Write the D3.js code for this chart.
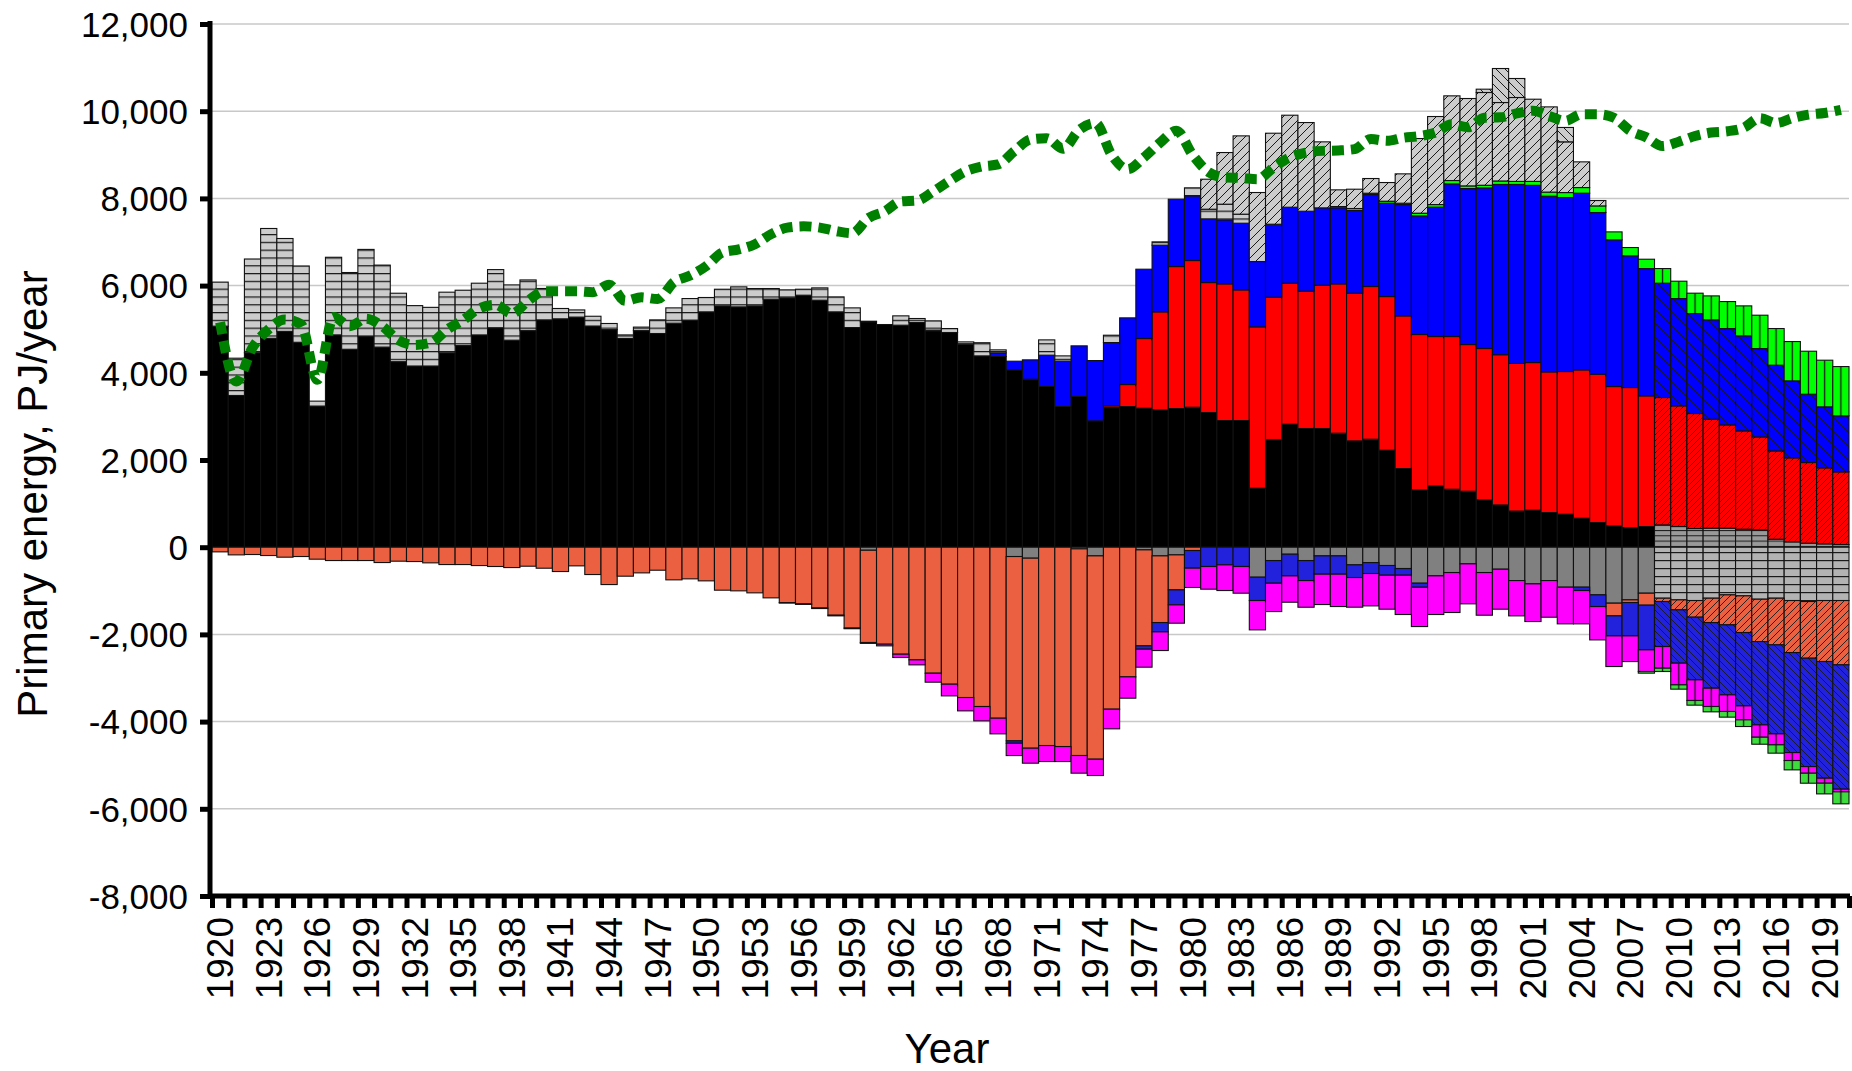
<!DOCTYPE html>
<html>
<head>
<meta charset="utf-8">
<script src="https://cdnjs.cloudflare.com/ajax/libs/d3/7.8.5/d3.min.js"></script>
<style>
body { margin: 0; background: #fff; }
text { font-family: "Liberation Sans", Arial, sans-serif; fill: #000; }
</style>
</head>
<body>
<div id="chart"></div>
<script>
// years on the x axis
const years = [1920,1921,1922,1923,1924,1925,1926,1927,1928,1929,
  1930,1931,1932,1933,1934,1935,1936,1937,1938,1939,
  1940,1941,1942,1943,1944,1945,1946,1947,1948,1949,
  1950,1951,1952,1953,1954,1955,1956,1957,1958,1959,
  1960,1961,1962,1963,1964,1965,1966,1967,1968,1969,
  1970,1971,1972,1973,1974,1975,1976,1977,1978,1979,
  1980,1981,1982,1983,1984,1985,1986,1987,1988,1989,
  1990,1991,1992,1993,1994,1995,1996,1997,1998,1999,
  2000,2001,2002,2003,2004,2005,2006,2007,2008,2009,
  2010,2011,2012,2013,2014,2015,2016,2017,2018,2019,2020];

// positive side, PJ/year (stack order bottom -> top)
const coal = [5070,3480,4460,4790,4950,4700,3230,4870,4540,4830,
  4590,4255,4156,4156,4459,4624,4869,5032,4748,4967,
  5213,5238,5278,5073,4991,4787,4967,4901,5138,5206,
  5398,5535,5512,5535,5688,5719,5780,5665,5398,5038,
  5170,5107,5092,5153,4962,4924,4656,4388,4373,4067,
  3853,3685,3226,3456,2898,3200,3226,3188,3150,3180,
  3211,3089,2905,2905,1353,2470,2821,2722,2722,2615,
  2439,2477,2225,1804,1315,1407,1330,1284,1086,970,
  830,850,795,757,665,566,490,451,474,512,
  474,428,436,436,413,397,183,122,92,76,61];
const oil = [0,0,0,0,0,0,0,0,0,0,
  0,0,0,0,0,0,0,0,0,0,
  0,0,0,0,0,0,0,0,0,0,
  0,0,0,0,0,0,0,0,0,0,
  0,0,0,0,15,0,0,0,0,0,
  0,0,0,0,0,42,505,1598,2248,3257,
  3364,2981,3135,2997,3701,3264,3234,3150,3287,3425,
  3387,3502,3524,3502,3563,3425,3502,3364,3471,3445,
  3385,3385,3226,3272,3402,3402,3195,3211,2997,2921,
  2768,2638,2500,2370,2255,2133,2026,1927,1850,1744,1667];
const gas = [0,0,0,0,0,0,0,0,0,0,
  0,0,0,0,0,0,0,0,0,0,
  0,0,0,0,0,0,0,0,0,0,
  0,0,0,0,0,0,0,0,0,0,
  0,0,0,0,0,0,0,0,85,199,
  444,719,1040,1162,1383,1452,1529,1590,1529,1545,
  1483,1453,1468,1529,1498,1674,1743,1834,1774,1743,
  1896,2110,2141,2553,2721,2966,3501,3578,3684,3905,
  4105,4065,4029,3991,4052,3708,3364,3020,2920,2622,
  2461,2293,2278,2209,2179,2026,1965,1766,1567,1399,1284];
const renew = [0,0,0,0,0,0,0,0,0,0,
  0,0,0,0,0,0,0,0,0,0,
  0,0,0,0,0,0,0,0,0,0,
  0,0,0,0,0,0,0,0,0,0,
  0,0,0,0,0,0,0,0,0,0,
  0,0,0,0,0,0,0,0,0,0,
  0,0,0,0,0,0,0,0,0,30,
  46,30,46,31,62,61,77,61,61,80,
  70,90,95,114,130,152,183,191,214,336,
  398,467,550,619,688,765,841,902,986,1070,1131];
const lined = [1010,855,2150,2520,2130,1750,120,1780,1760,2000,
  1880,1570,1385,1345,1390,1270,1186,1335,1268,1163,
  721,237,164,224,140,82,81,313,351,497,
  329,382,459,398,245,183,137,283,343,451,
  13,0,214,92,214,91,53,302,68,0,
  0,351,122,0,0,168,0,0,76,0,
  184,229,359,207,0,0,0,0,0,0,
  0,0,0,0,0,0,0,0,0,0,
  0,0,0,0,0,0,0,0,0,0,
  0,0,0,0,0,0,0,0,0,0,0];
const hatched = [0,0,0,0,0,0,0,0,0,0,
  0,0,0,0,0,0,0,0,0,0,
  0,0,0,0,0,0,0,0,0,0,
  0,0,0,0,0,0,0,0,0,0,
  0,0,0,0,0,0,0,0,0,0,
  0,0,0,0,0,0,0,0,0,0,
  0,688,1185,1796,1583,2087,2110,2034,1514,383,
  443,337,428,673,1712,2019,1942,2004,2127,1799,
  1924,1885,1954,1163,589,123,0,0,0,0,
  0,0,0,0,0,0,0,0,0,0,0];
const backHatched = [0,0,0,0,0,0,0,0,0,0,
  0,0,0,0,0,0,0,0,0,0,
  0,0,0,0,0,0,0,0,0,0,
  0,0,0,0,0,0,0,0,0,0,
  0,0,0,0,0,0,0,0,0,0,
  0,0,0,0,0,0,0,0,0,0,
  0,0,0,0,0,0,0,0,0,0,
  0,0,0,0,0,0,0,0,76,780,
  436,0,0,330,0,0,0,0,0,0,
  0,0,0,0,0,0,0,0,0,0,0];

// negative side, PJ/year as magnitudes (stack order zero -> down)
const outGray = [0,0,0,0,0,0,0,0,0,0,
  0,0,0,0,0,0,0,0,0,0,
  0,0,0,0,0,0,0,0,0,0,
  0,0,0,0,0,0,0,0,0,0,
  70,0,0,0,0,0,0,0,0,214,
  252,0,0,38,199,0,0,61,199,176,
  0,0,0,0,688,306,161,306,199,199,
  405,352,420,489,826,657,581,382,581,505,
  765,841,765,917,917,1093,1284,1208,1055,1170,
  1208,1223,1170,1093,1116,1193,1170,1223,1246,1223,1223];
const outOrange = [107,176,168,191,229,214,275,306,306,306,
  352,321,329,359,398,398,421,443,467,436,
  482,558,428,627,857,665,589,528,749,726,
  772,986,1001,1047,1162,1270,1300,1395,1560,1855,
  2116,2225,2454,2584,2890,3142,3448,3654,3922,4228,
  4358,4549,4572,4740,4663,3715,2974,2202,1529,803,
  76,0,0,0,0,0,0,0,0,0,
  0,0,0,0,0,0,0,0,0,0,
  0,0,0,0,0,0,291,61,275,76,
  229,382,558,688,841,971,1070,1193,1300,1399,1475];
const outBlue = [0,0,0,0,0,0,0,0,0,0,
  0,0,0,0,0,0,0,0,0,0,
  0,0,0,0,0,0,0,0,0,0,
  0,0,0,0,0,0,0,0,0,0,
  0,0,0,0,0,0,0,0,0,54,
  0,0,0,0,0,0,0,76,214,344,
  405,443,405,443,535,520,497,459,420,420,
  291,252,222,153,92,0,0,0,0,0,
  0,0,0,0,76,268,459,765,1024,1032,
  1223,1437,1506,1605,1682,1911,2041,2294,2485,2676,2852];
const outMagenta = [0,0,0,0,0,0,0,0,0,0,
  0,0,0,0,0,0,0,0,0,0,
  0,0,0,0,0,0,0,0,0,0,
  0,0,0,0,0,12,12,12,15,15,
  20,38,76,115,206,268,306,329,359,283,
  344,367,344,405,375,451,489,413,428,420,
  443,520,589,612,673,650,604,612,696,742,
  680,742,780,902,902,887,917,917,979,917,
  810,864,841,841,765,765,703,589,497,497,
  497,474,420,382,321,283,252,183,153,115,61];
const outGreen = [0,0,0,0,0,0,0,0,0,0,
  0,0,0,0,0,0,0,0,0,0,
  0,0,0,0,0,0,0,0,0,0,
  0,0,0,0,0,0,0,0,0,0,
  0,0,0,0,0,0,0,0,0,0,
  0,0,0,0,0,0,0,0,0,0,
  0,0,0,0,0,0,0,0,0,0,
  0,0,0,0,0,0,0,0,0,0,
  0,0,0,0,0,0,0,0,38,76,
  99,107,122,130,153,161,191,214,229,245,275];

// total use, the green dotted line
const consumption = [5160,3800,4580,5000,5220,5110,3840,5280,5070,5240,
  5070,4750,4640,4690,4990,5210,5480,5560,5360,5650,
  5870,5870,5870,5850,6020,5650,5730,5690,6080,6230,
  6450,6760,6830,6950,7180,7330,7360,7330,7250,7200,
  7550,7700,7930,7950,8160,8400,8620,8730,8780,9080,
  9350,9380,9140,9570,9730,9000,8670,8940,9280,9550,
  9000,8600,8480,8470,8440,8710,8940,9050,9090,9100,
  9130,9360,9320,9390,9430,9510,9700,9630,9850,9860,
  9950,10010,9890,9780,9930,9930,9850,9550,9400,9200,
  9300,9430,9510,9540,9620,9840,9730,9840,9920,9960,10030];

const yTicks = [-8000,-6000,-4000,-2000,0,2000,4000,6000,8000,10000,12000];
const yearLabels = years.filter((d, i) => i % 3 == 0);
const newStyleFrom = 2009;

const W = 1852, H = 1071;
const mLeft = 212, mRight = 1849, mTop = 24, mBottom = 896;

const x = d3.scaleBand().domain(years).range([mLeft, mRight]).padding(0);
const xEdge = d3.scaleLinear().domain([1920, 2021]).range([mLeft, mRight]);
const y = d3.scaleLinear().domain([-8000, 12000]).range([mBottom, mTop]);
const bw = x.bandwidth();

const svg = d3.select("#chart").append("svg")
  .attr("width", W).attr("height", H)
  .style("background", "#fff");

// fill patterns
const defs = svg.append("defs");
function pat(id, bg, w, h, d, sw) {
  const p = defs.append("pattern").attr("id", id)
    .attr("patternUnits", "userSpaceOnUse")
    .attr("x", mLeft).attr("y", 0)
    .attr("width", w).attr("height", h);
  p.append("rect").attr("width", w).attr("height", h).attr("fill", bg);
  p.append("path").attr("d", d).attr("fill", "none")
    .attr("stroke", "#1a1a1a").attr("stroke-width", sw);
}
pat("lined", "#cccccc", 10, 7.8, "M0,0.6H10", 1.3);
pat("hatch", "#cccccc", 9, 9, "M0,9L9,0M-3,3L3,-3M6,12L12,6", 1);
pat("back", "#cccccc", 9, 9, "M0,0L9,9M-3,6L3,12M6,-3L12,3", 1);
pat("coal2", "#999999", 10, 5.3, "M0,0.5H10", 1);
pat("oil2", "#ff0000", 6, 6, "M0,6L6,0M-2,2L2,-2M4,8L8,4", 0.9);
pat("gas2", "#0000ff", 7, 7, "M0,0L7,7M-2,5L2,9M5,-2L9,2", 0.9);
pat("ren2", "#00ff00", bw, 10, "M" + bw / 2 + ",0V10", 1.3);
pat("ngray2", "#b3b3b3", 10, 8, "M0,0.6H10", 1.2);
pat("norange2", "#ea6040", 7, 7, "M0,7L7,0M-2,2L2,-2M5,9L9,5", 0.9);
pat("nblue2", "#2222dd", 7, 7, "M0,0L7,7M-2,5L2,9M5,-2L9,2", 0.9);
pat("nmag2", "#ff00ff", bw, 10, "M" + bw / 2 + ",0V10", 1.3);
pat("ngreen2", "#3ddd3d", bw, 10, "M" + bw / 2 + ",0V10", 1.3);

const posKeys = ["coal", "oil", "gas", "renew", "lined", "hatched", "backHatched"];
const posFill = {coal: "#000000", oil: "#ff0000", gas: "#0000ff", renew: "#00ff00",
  lined: "url(#lined)", hatched: "url(#hatch)", backHatched: "url(#back)"};
const posFill2 = {coal: "url(#coal2)", oil: "url(#oil2)", gas: "url(#gas2)", renew: "url(#ren2)",
  lined: "url(#lined)", hatched: "url(#hatch)", backHatched: "url(#back)"};
const negKeys = ["outGray", "outOrange", "outBlue", "outMagenta", "outGreen"];
const negFill = {outGray: "#808080", outOrange: "#ea6040", outBlue: "#2222dd",
  outMagenta: "#ff00ff", outGreen: "#3ddd3d"};
const negFill2 = {outGray: "url(#ngray2)", outOrange: "url(#norange2)", outBlue: "url(#nblue2)",
  outMagenta: "url(#nmag2)", outGreen: "url(#ngreen2)"};

const rows = years.map((yr, i) => ({
  year: yr, coal: coal[i], oil: oil[i], gas: gas[i], renew: renew[i],
  lined: lined[i], hatched: hatched[i], backHatched: backHatched[i],
  outGray: outGray[i], outOrange: outOrange[i], outBlue: outBlue[i],
  outMagenta: outMagenta[i], outGreen: outGreen[i]
}));

// grid
svg.append("g").selectAll("line")
  .data(yTicks.filter(d => d > -8000 && d != 0))
  .enter().append("line")
  .attr("x1", mLeft).attr("x2", mRight)
  .attr("y1", d => y(d)).attr("y2", d => y(d))
  .attr("stroke", "#c8c8c8").attr("stroke-width", 1.5);

const posStack = d3.stack().keys(posKeys)(rows);
const negStack = d3.stack().keys(negKeys)(rows);

svg.append("g").selectAll("g")
  .data(posStack).enter().append("g")
  .selectAll("rect")
  .data(s => s.filter(d => d[1] - d[0] > 0).map(d => ({d: d, key: s.key})))
  .enter().append("rect")
  .attr("x", e => x(e.d.data.year))
  .attr("width", bw)
  .attr("y", e => y(e.d[1]))
  .attr("height", e => y(e.d[0]) - y(e.d[1]))
  .attr("fill", e => e.d.data.year >= newStyleFrom ? posFill2[e.key] : posFill[e.key])
  .attr("stroke", "#111").attr("stroke-width", 1.1);

svg.append("g").selectAll("g")
  .data(negStack).enter().append("g")
  .selectAll("rect")
  .data(s => s.filter(d => d[1] - d[0] > 0).map(d => ({d: d, key: s.key})))
  .enter().append("rect")
  .attr("x", e => x(e.d.data.year))
  .attr("width", bw)
  .attr("y", e => y(-e.d[0]))
  .attr("height", e => y(-e.d[1]) - y(-e.d[0]))
  .attr("fill", e => e.d.data.year >= newStyleFrom ? negFill2[e.key] : negFill[e.key])
  .attr("stroke", "#111").attr("stroke-width", 1.1);

// y axis (plain hyphen for minus, like the original)
const fmt = d3.format(",");
const yAxis = d3.axisLeft(y).tickValues(yTicks).tickSize(10).tickPadding(12)
  .tickFormat(d => fmt(d).replace("\u2212", "-"));
const gy = svg.append("g").attr("transform", "translate(210,0)").call(yAxis);
gy.select(".domain").remove();
gy.selectAll(".tick line").attr("stroke", "#000").attr("stroke-width", 5);
gy.selectAll("text").style("font-size", "35px").attr("dy", "0.35em");
svg.append("line").attr("x1", 210).attr("x2", 210).attr("y1", mTop - 3).attr("y2", mBottom + 2.5)
  .attr("stroke", "#000").attr("stroke-width", 5);

// x axis: ticks at year edges, labels every 3 years
const gxt = svg.append("g").attr("transform", "translate(0," + mBottom + ")")
  .call(d3.axisBottom(xEdge).tickValues(years.concat([2021])).tickSize(12).tickFormat(""));
gxt.select(".domain").remove();
gxt.selectAll(".tick line").attr("stroke", "#000").attr("stroke-width", 5);

const gx = svg.append("g").attr("transform", "translate(0," + mBottom + ")")
  .call(d3.axisBottom(x).tickValues(yearLabels).tickSize(0));
gx.select(".domain").remove();
gx.selectAll("text")
  .attr("x", -21).attr("y", 0).attr("dy", "0.35em")
  .attr("transform", "rotate(-90)")
  .style("text-anchor", "end")
  .style("font-size", "37px");
svg.append("line").attr("x1", 208).attr("x2", mRight + 1).attr("y1", mBottom).attr("y2", mBottom)
  .attr("stroke", "#000").attr("stroke-width", 5);

// titles
svg.append("text").attr("x", 947).attr("y", 1063)
  .attr("text-anchor", "middle").style("font-size", "42px").text("Year");
svg.append("text").attr("transform", "translate(47,494) rotate(-90)")
  .attr("text-anchor", "middle").style("font-size", "42px").text("Primary energy, PJ/year");

// consumption line
const line = d3.line()
  .x((d, i) => x(years[i]) + bw / 2)
  .y(d => y(d))
  .curve(d3.curveMonotoneX);
svg.append("path").datum(consumption)
  .attr("d", line)
  .attr("fill", "none")
  .attr("stroke", "#008000")
  .attr("stroke-width", 10)
  .attr("stroke-dasharray", "12,7");
</script>
</body>
</html>
